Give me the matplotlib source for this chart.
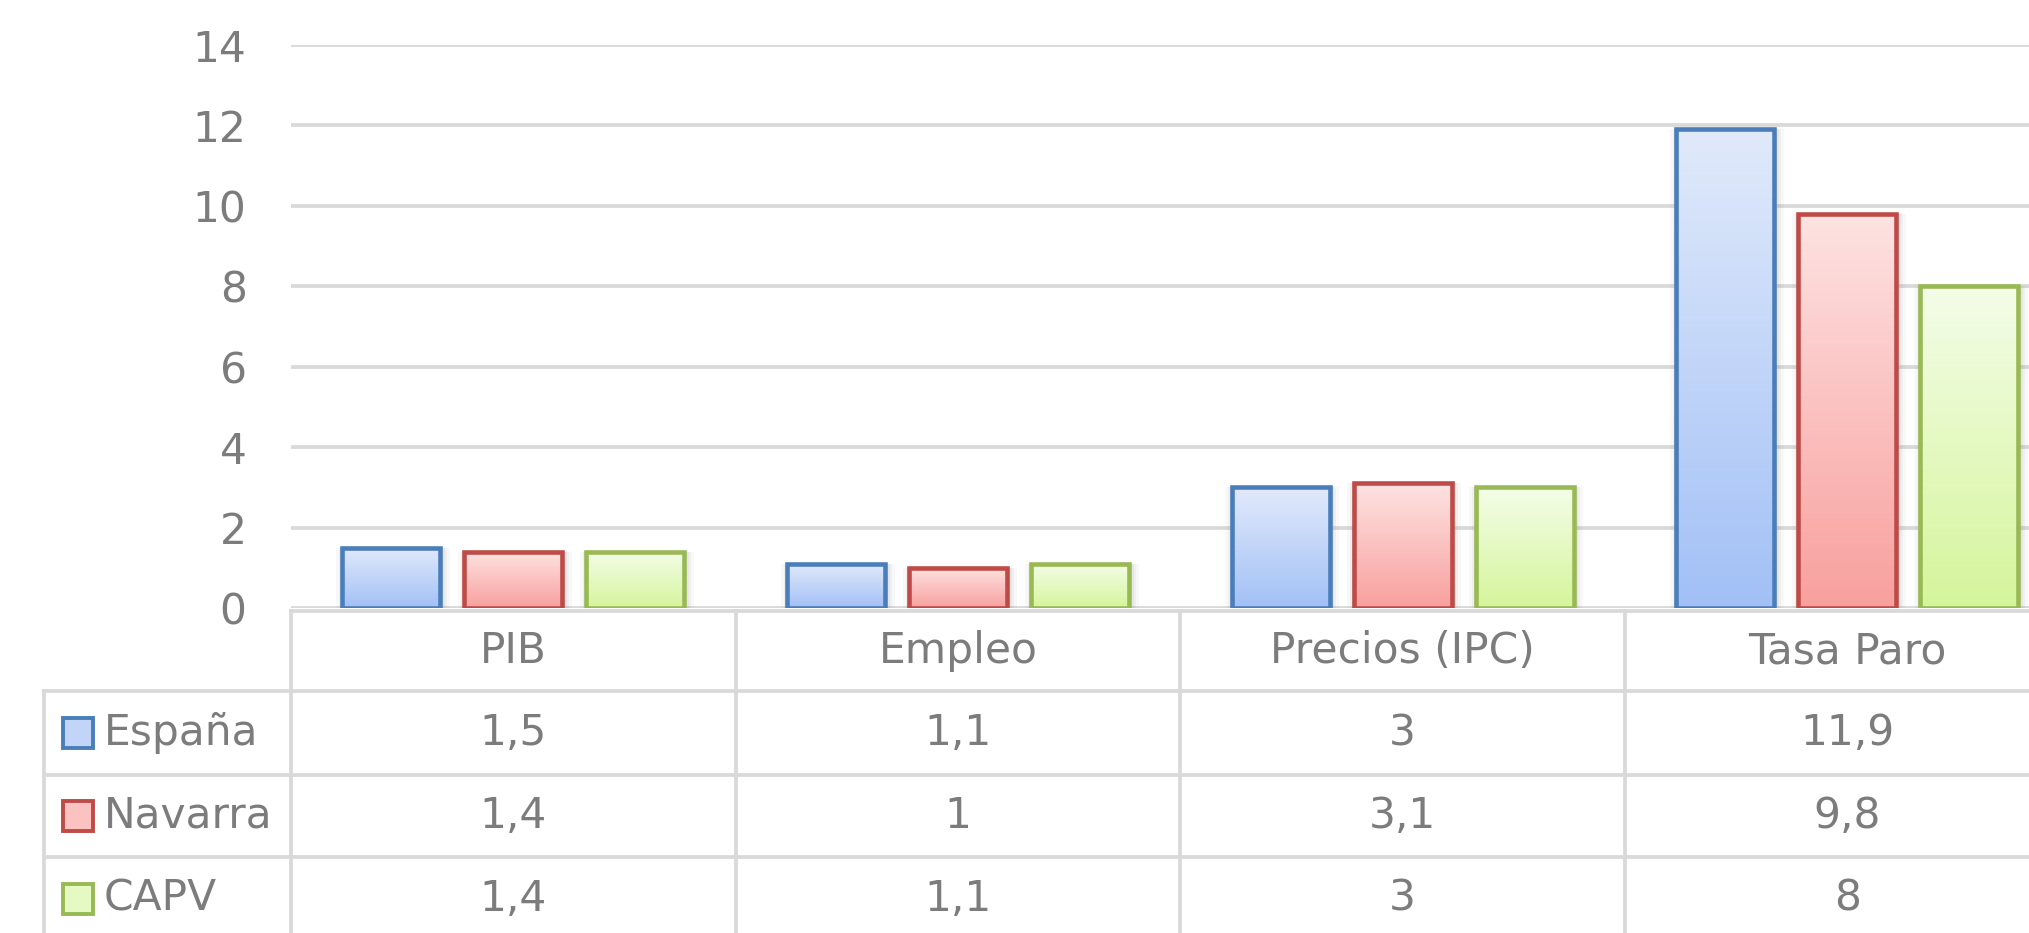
import numpy as np
import matplotlib
matplotlib.use("Agg")
import matplotlib.pyplot as plt
import matplotlib.transforms as mtrans
from matplotlib.patches import Rectangle
from matplotlib.lines import Line2D
from matplotlib.colors import to_rgb

# ---------------- data ----------------
categories = ["PIB", "Empleo", "Precios (IPC)", "Tasa Paro"]
series_names = ["España", "Navarra", "CAPV"]
espana = [1.5, 1.1, 3, 11.9]
navarra = [1.4, 1, 3.1, 9.8]
capv = [1.4, 1.1, 3, 8]
yticks = [0, 2, 4, 6, 8, 10, 12, 14]

series_values = [espana, navarra, capv]
edge_colors = ["#4a7ebb", "#be4b48", "#98b954"]
top_colors = ["#e1eafb", "#fde3e2", "#f4fde8"]
bottom_colors = ["#a2c0f6", "#f8a09e", "#d5f59b"]

TEXT = "#7c7c7c"
GRID = "#d9d9d9"
FONT = "DejaVu Sans"


def fmt(v):
    return f"{v:g}".replace(".", ",")


W, H, DPI = 2029, 933, 100
fig = plt.figure(figsize=(W / DPI, H / DPI), dpi=DPI)
fig.patch.set_facecolor("white")

# axes in pixel geometry (top-left origin)
ax_left, ax_right = 291, 291 + 4 * 444.7
ax_top, ax_bottom = 45, 608
ax = fig.add_axes([ax_left / W, 1 - ax_bottom / H,
                   (ax_right - ax_left) / W, (ax_bottom - ax_top) / H])
ax.set_xlim(-0.5, len(categories) - 0.5)
ax.set_ylim(0, 14)
for s in ax.spines.values():
    s.set_visible(False)
ax.set_yticks(yticks)
ax.set_yticklabels([fmt(v) for v in yticks], fontsize=30.5, color=TEXT,
                   family=FONT)
ax.set_xticks([])
ax.tick_params(axis="y", length=0, pad=32)
ax.yaxis.grid(True, color=GRID, lw=2.7)
ax.set_axisbelow(True)

px_per_unit = (ax_right - ax_left) / len(categories)
bar_w = 98 / px_per_unit
pitch = 122 / px_per_unit
x = np.arange(len(categories))

for i, (vals, ec, tc, bc) in enumerate(zip(series_values, edge_colors,
                                            top_colors, bottom_colors)):
    xs = x + (i - 1) * pitch
    # soft shadow
    for grow, a in [(8, 0.05), (5, 0.07), (3, 0.08)]:
        ax.bar(xs + 1.5 / px_per_unit, vals,
               width=bar_w + 2 * grow / px_per_unit,
               color="#808080", alpha=a, lw=0, zorder=2)
    bars = ax.bar(xs, vals, width=bar_w, facecolor="none", edgecolor=ec,
                  lw=3.3, zorder=4)
    grad = np.linspace(0, 1, 256)[:, None, None]
    img = (1 - grad) * np.array(to_rgb(tc)) + grad * np.array(to_rgb(bc))
    for b in bars:
        x0, w, h = b.get_x(), b.get_width(), b.get_height()
        im = ax.imshow(img, extent=(x0, x0 + w, 0, h), origin="upper",
                       aspect="auto", zorder=3, interpolation="bilinear")
        im.set_clip_path(b)
ax.set_xlim(-0.5, len(categories) - 0.5)
ax.set_ylim(0, 14)

# ---------------- data table ----------------
def fy(ypix):
    return 1 - ypix / H


def fx(xpix):
    return xpix / W


tdata = mtrans.blended_transform_factory(ax.transData, fig.transFigure)
tfig = fig.transFigure
LW_T = 2.7
row_tops = [611, 691, 775, 857, 940]
left_border = 44

# horizontal lines
fig.add_artist(Line2D([fx(ax_left), fx(W + 50)], [fy(row_tops[0])] * 2,
                      transform=tfig, color=GRID, lw=LW_T))
for yp in row_tops[1:]:
    fig.add_artist(Line2D([fx(left_border), fx(W + 50)], [fy(yp)] * 2,
                          transform=tfig, color=GRID, lw=LW_T))
# vertical lines
fig.add_artist(Line2D([fx(ax_left)] * 2, [fy(row_tops[0]), fy(H + 20)],
                      transform=tfig, color=GRID, lw=LW_T))
fig.add_artist(Line2D([fx(left_border)] * 2, [fy(row_tops[1]), fy(H + 20)],
                      transform=tfig, color=GRID, lw=LW_T))
for k in range(1, len(categories)):
    fig.add_artist(Line2D([k - 0.5] * 2, [fy(row_tops[0]), fy(H + 20)],
                          transform=tdata, color=GRID, lw=LW_T))

TS = 30.5
# header row
for xi, cat in zip(x, categories):
    fig.text(xi, fy((row_tops[0] + row_tops[1]) / 2), cat, transform=tdata,
             ha="center", va="center", fontsize=TS, color=TEXT, family=FONT)
# value rows
for r, (name, vals, ec, tc, bc) in enumerate(zip(series_names, series_values,
                                                 edge_colors, top_colors,
                                                 bottom_colors)):
    yc = (row_tops[r + 1] + row_tops[r + 2]) / 2
    for xi, v in zip(x, vals):
        fig.text(xi, fy(yc), fmt(v), transform=tdata, ha="center",
                 va="center", fontsize=TS, color=TEXT, family=FONT)
    # legend key
    sq = 30
    mid = tuple((np.array(to_rgb(tc)) + np.array(to_rgb(bc))) / 2)
    fig.add_artist(Rectangle((fx(78 - sq / 2), fy(yc + sq / 2)), sq / W,
                             sq / H, transform=tfig, facecolor=mid,
                             edgecolor=ec, lw=2.8))
    fig.text(fx(104), fy(yc), name, transform=tfig, ha="left", va="center",
             fontsize=TS, color=TEXT, family=FONT)

fig.savefig("out.png", dpi=DPI)
